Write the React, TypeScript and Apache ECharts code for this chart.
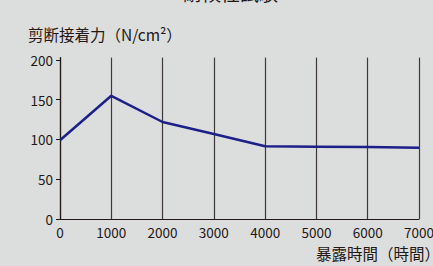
import React, { useEffect, useRef } from "react";
import * as echarts from "echarts";

const hours = [0, 1000, 2000, 3000, 4000, 5000, 6000, 7000];
const strength = [99, 155, 122, 107, 91.5, 91, 90.5, 89.5];
const yTicks = [0, 50, 100, 150, 200];
const xTicks = [0, 1000, 2000, 3000, 4000, 5000, 6000, 7000];
const title = "耐候性試験";
const yName = "剪断接着力（N/cm²）";
const xName = "暴露時間（時間）";

const FONT = "'Noto Sans CJK JP', 'Noto Sans', sans-serif";
const DARK = "#231815";

export default function App() {
  const ref = useRef<HTMLDivElement>(null);
  useEffect(() => {
    const chart = echarts.init(ref.current!, undefined, { renderer: "svg" });
    chart.setOption({
      animation: false,
      backgroundColor: "#dcdddd",
      textStyle: { fontFamily: FONT },
      grid: { left: 60, right: 14, top: 57.6, bottom: 47, containLabel: false, outerBoundsMode: "none" },
      xAxis: {
        type: "value",
        min: 0,
        max: 7000,
        interval: 1000,
        axisLine: { show: true, lineStyle: { color: DARK, width: 1.2 } },
        axisTick: { show: false },
        axisLabel: {
          color: DARK,
          fontSize: 13.5,
          fontFamily: FONT,
          margin: 6,
          customValues: xTicks,
          formatter: (v: number) => String(v),
        },
        splitLine: { show: true, lineStyle: { color: "#3e3a39", width: 1.2 } },
      },
      yAxis: {
        type: "value",
        min: 0,
        max: 203,
        axisLine: { show: true, onZero: false, lineStyle: { color: DARK, width: 1.2 } },
        axisTick: { show: true, length: 4, lineStyle: { color: DARK }, customValues: yTicks },
        axisLabel: {
          color: DARK,
          fontSize: 13.5,
          fontFamily: FONT,
          margin: 7,
          customValues: yTicks,
          formatter: (v: number) => String(v),
        },
        splitLine: { show: false },
      },
      graphic: [
        {
          type: "text",
          x: 183,
          y: -7.5,
          style: { text: title, font: `19px ${FONT}`, fill: DARK, verticalAlign: "middle" },
        },
        {
          type: "text",
          x: 28,
          y: 33.5,
          style: { text: yName, font: `15.5px ${FONT}`, fill: DARK, verticalAlign: "middle" },
        },
        {
          type: "text",
          x: 316,
          y: 253,
          style: { text: xName, font: `15.5px ${FONT}`, fill: DARK, verticalAlign: "middle" },
        },
      ],
      series: [
        {
          type: "line",
          data: hours.map((h, i) => [h, strength[i]]),
          symbol: "none",
          lineStyle: { color: "#1d2088", width: 2.5 },
          z: 5,
        },
      ],
    });
    return () => chart.dispose();
  }, []);
  return <div ref={ref} style={{ width: 433, height: 266, position: "fixed", left: 0, top: 0 }} />;
}
